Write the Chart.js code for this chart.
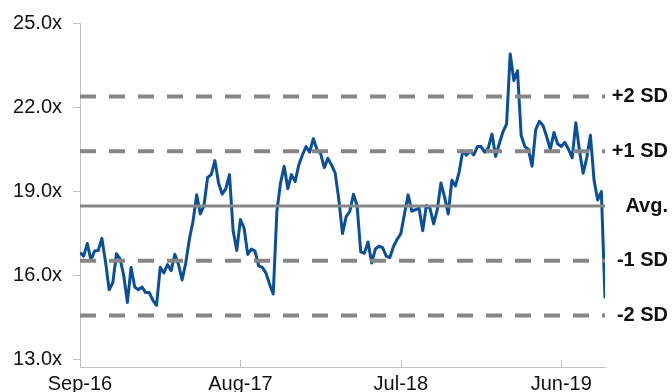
<!DOCTYPE html>
<html>
<head>
<meta charset="utf-8">
<script src="https://cdn.jsdelivr.net/npm/chart.js@4.4.1/dist/chart.umd.min.js"></script>
<style>
  html, body { margin: 0; padding: 0; background: #fff; }
  #wrap { width: 672px; height: 392px; }
</style>
</head>
<body>
<div id="wrap"><canvas id="peChart" width="672" height="392"></canvas></div>
<script>
// forward P/E, roughly weekly points (4 per month) from Sep-16
const peMultiple = [
  16.82, 16.7, 17.15, 16.55, 16.88, 16.9, 17.33, 16.5, 15.5, 15.75,
  16.78, 16.6, 16.0, 15.05, 16.29, 15.6, 15.5, 15.6, 15.4, 15.4,
  15.12, 14.95, 16.3, 16.1, 16.4, 16.18, 16.76, 16.41, 15.85, 16.45,
  17.3, 17.94, 18.88, 18.2, 18.5, 19.5, 19.6, 20.1, 19.3, 18.9,
  19.1, 19.6, 17.6, 16.9, 18.0, 17.7, 16.76, 16.95, 16.88, 16.35,
  16.3, 16.1, 15.7, 15.35, 18.29, 19.3, 19.9, 19.1, 19.6, 19.35,
  19.94, 20.3, 20.6, 20.4, 20.88, 20.5, 20.35, 19.85, 20.18, 19.94,
  19.65, 18.7, 17.5, 18.1, 18.29, 18.9, 18.5, 16.85, 16.8, 17.2,
  16.45, 16.95, 17.05, 17.0, 16.7, 16.65, 17.05, 17.3, 17.5, 18.2,
  18.88, 18.3, 18.35, 18.4, 17.6, 18.5, 18.4, 17.85, 18.35, 19.3,
  18.8, 18.2, 19.4, 19.2, 19.7, 20.45, 20.29, 20.45, 20.3, 20.6,
  20.6, 20.4, 20.55, 21.05, 20.25, 20.7, 21.12, 21.4, 23.9, 22.95,
  23.3, 21.0, 20.6, 20.5, 19.9, 21.2, 21.5, 21.35, 20.95, 20.5,
  21.1, 20.7, 20.6, 20.75, 20.5, 20.2, 21.45, 20.45, 19.65, 20.2,
  21.0, 19.4, 18.7, 19.0, 15.2
];
const pointsPerMonth = 4;

const xTickMonths = [0, 11, 22, 33];
const xTickLabels = ["Sep-16", "Aug-17", "Jul-18", "Jun-19"];
const yTicks = [13, 16, 19, 22, 25];

const bandLabels = ["+2 SD", "+1 SD", "Avg.", "-1 SD", "-2 SD"];
const bandValues = [22.38, 20.43, 18.48, 16.53, 14.58];

const FONT = "'Liberation Sans', Arial, sans-serif";
const GREY = "#868686";
const AXIS = "#c0c0c0";

// small tick marks on the x axis pointing up into the plot
const xTickMarks = {
  id: "xTickMarks",
  afterDraw(chart) {
    const { ctx, scales: { x }, chartArea } = chart;
    ctx.save();
    ctx.strokeStyle = AXIS;
    ctx.lineWidth = 1;
    xTickMonths.forEach(m => {
      const px = Math.round(x.getPixelForValue(m)) + 0.5;
      ctx.beginPath();
      ctx.moveTo(px, chartArea.bottom);
      ctx.lineTo(px, chartArea.bottom - 7);
      ctx.stroke();
    });
    ctx.restore();
  }
};

// +2 SD / Avg. labels on the right
const bandText = {
  id: "bandText",
  afterDraw(chart) {
    const { ctx, scales: { y } } = chart;
    ctx.save();
    ctx.font = "bold 20px " + FONT;
    ctx.fillStyle = "#111";
    ctx.textAlign = "right";
    ctx.textBaseline = "middle";
    bandLabels.forEach((lbl, i) => {
      ctx.fillText(lbl, 668, y.getPixelForValue(bandValues[i]));
    });
    ctx.restore();
  }
};

const bandSets = bandValues.map((v, i) => ({
  label: bandLabels[i],
  data: [{ x: 0, y: v }, { x: 36, y: v }],
  borderColor: GREY,
  borderWidth: bandLabels[i] === "Avg." ? 3 : 4,
  borderDash: bandLabels[i] === "Avg." ? [] : [16, 13],
  pointRadius: 0
}));

new Chart(document.getElementById("peChart").getContext("2d"), {
  type: "line",
  data: {
    datasets: [
      ...bandSets,
      {
        label: "Fwd P/E",
        data: peMultiple.map((v, i) => ({ x: i / pointsPerMonth, y: v })),
        borderColor: "#0b4f9b",
        borderWidth: 3,
        pointRadius: 0,
        tension: 0,
        borderJoinStyle: "round"
      }
    ]
  },
  options: {
    responsive: false,
    animation: false,
    devicePixelRatio: 1,
    layout: { padding: { top: 20, right: 67, left: 0, bottom: 0 } },
    plugins: {
      legend: { display: false },
      tooltip: { enabled: false }
    },
    scales: {
      x: {
        type: "linear",
        min: 0,
        max: 36,
        afterBuildTicks: s => { s.ticks = xTickMonths.map(v => ({ value: v })); },
        afterFit: s => { s.height = 25; },
        border: { display: true, color: AXIS, width: 1 },
        grid: { display: false, drawTicks: false },
        ticks: {
          padding: 5,
          maxRotation: 0,
          autoSkip: false,
          color: "#111",
          font: { family: FONT, size: 20 },
          callback: v => xTickLabels[xTickMonths.indexOf(v)]
        }
      },
      y: {
        min: 12.75,
        max: 25,
        afterBuildTicks: s => { s.ticks = yTicks.map(v => ({ value: v })); },
        afterFit: s => { s.width = 80; },
        border: { display: true, color: AXIS, width: 1 },
        grid: { drawOnChartArea: false, drawTicks: true, tickLength: 7, color: AXIS },
        ticks: {
          padding: 11,
          color: "#111",
          font: { family: FONT, size: 20 },
          callback: v => v.toFixed(1) + "x"
        }
      }
    }
  },
  plugins: [xTickMarks, bandText]
});
</script>
</body>
</html>
